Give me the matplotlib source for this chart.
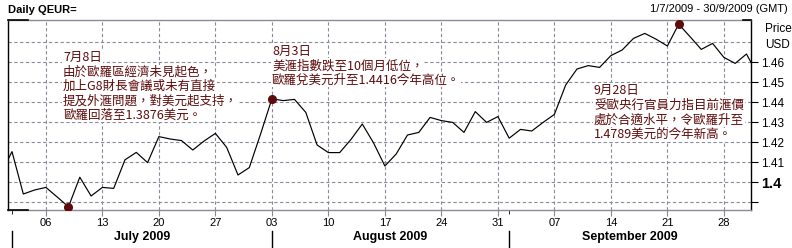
import numpy as np
import pandas as pd
import matplotlib
matplotlib.use("Agg")
import matplotlib.pyplot as plt
import matplotlib.transforms as mtransforms

# daily EUR/USD closes (trading days), 30/6/2009 - 1/10/2009
dates = pd.bdate_range("2009-06-30", "2009-10-01")
prices = [
    1.4040,
    # July
    1.4152, 1.3940, 1.3960, 1.3973, 1.3925, 1.3876, 1.4024, 1.3930, 1.3973, 1.3968,
    1.4111, 1.4148, 1.4097, 1.4227, 1.4215, 1.4207, 1.4160, 1.4205, 1.4243, 1.4173,
    1.4035, 1.4072, 1.4240,
    # August
    1.4416, 1.4407, 1.4413, 1.4348, 1.4185, 1.4147, 1.4147, 1.4213, 1.4290, 1.4195,
    1.4080, 1.4140, 1.4235, 1.4248, 1.4323, 1.4307, 1.4298, 1.4248, 1.4352, 1.4298,
    1.4327,
    # September
    1.4219, 1.4263, 1.4255, 1.4298, 1.4338, 1.4485, 1.4565, 1.4582, 1.4573, 1.4632,
    1.4660, 1.4718, 1.4743, 1.4714, 1.4680, 1.4789, 1.4727, 1.4663, 1.4693, 1.4623,
    1.4593, 1.4640,
    # October
    1.4535,
]
highlight_dates = ["2009-07-08", "2009-08-03", "2009-09-22"]
y_ticks = [1.39, 1.40, 1.41, 1.42, 1.43, 1.44, 1.45, 1.46]
y_ticklabels = ["", "1.4", "1.41", "1.42", "1.43", "1.44", "1.45", "1.46"]
months = ["July 2009", "August 2009", "September 2009"]
month_starts = ["2009-07-01", "2009-08-03", "2009-09-01"]

notes = [
    ["7月8日", "由於歐羅區經濟未見起色，", "加上G8財長會議或未有直接",
     "提及外滙問題，對美元起支持，", "歐羅回落至1.3876美元。"],
    ["8月3日", "美滙指數跌至10個月低位，", "歐羅兌美元升至1.4416今年高位。"],
    ["9月28日", "受歐央行官員力指目前滙價", "處於合適水平，令歐羅升至",
     "1.4789美元的今年新高。"],
]
note_pos = [(63, 51, 14.4), (272, 45, 14.2), (594, 84, 14.8)]  # px: left, top, line step

df = pd.DataFrame({"price": prices}, index=dates)
# x = trading-day index, 1 July = 0
df["x"] = np.arange(len(df)) - 1

W, H = 792, 248
fig = plt.figure(figsize=(W / 100, H / 100), dpi=100)
ax = fig.add_axes([8 / W, 1 - 210 / H, (751 - 8) / W, (210 - 20) / H])

grid_c = "#8a8a9a"
red = "#5e0b0b"
latin = ["Liberation Sans", "DejaVu Sans"]
cjk = ["Noto Sans CJK TC", "DejaVu Sans"]

ax.plot(df["x"], df["price"], color="black", lw=0.85, zorder=3)
hl = df.loc[pd.to_datetime(highlight_dates)]
ax.plot(hl["x"], hl["price"], "o", color=red, ms=5.5, zorder=5)

ax.set_xlim(-0.354, 65.4)
ax.set_ylim(1.386, 1.481)

# grid
for v in np.arange(1.39, 1.475, 0.01):
    ax.axhline(v, color=grid_c, lw=0.8, dashes=(3, 2.2), zorder=1)
mondays = df[df.index.dayofweek == 0]
for xv in mondays["x"]:
    ax.axvline(xv, color=grid_c, lw=0.8, dashes=(3, 2.2), zorder=1)

# x ticks
ax.set_xticks(mondays["x"])
ax.set_xticklabels([d.strftime("%d") for d in mondays.index], fontsize=8, family=latin)
ax.tick_params(axis="x", length=4, color=grid_c, pad=2)
ms_x = df.loc[pd.to_datetime(month_starts), "x"].tolist()
ax.set_xticks([ms_x[0], ms_x[2]], minor=True)
ax.tick_params(axis="x", which="minor", length=3, color="black")

# y ticks on right
ax.yaxis.tick_right()
ax.set_yticks(y_ticks)
ax.set_yticklabels(y_ticklabels, fontsize=8.5, family=latin)
ax.tick_params(axis="y", length=5, color="black", pad=2)
for lab in ax.get_yticklabels():
    if lab.get_text() == "1.4":
        lab.set_fontweight("bold")
        lab.set_fontsize(10.5)

# frame
for s in ["left", "right"]:
    ax.spines[s].set_color("black")
    ax.spines[s].set_linewidth(1)
for s in ["top", "bottom"]:
    ax.spines[s].set_color(grid_c)
    ax.spines[s].set_linewidth(1)
ax.plot([0, 0.027], [1, 1], color="black", lw=1.2, transform=ax.transAxes, clip_on=False, zorder=6)
ax.plot([0, 0.027], [0, 0], color="black", lw=1.2, transform=ax.transAxes, clip_on=False, zorder=6)
ax.plot([0.989, 1], [1, 1], color="black", lw=1.2, transform=ax.transAxes, clip_on=False, zorder=6)

# month band below axis
trans = mtransforms.blended_transform_factory(ax.transData, fig.transFigure)
edges = ms_x + [65.4]
for i, m in enumerate(months):
    ax.plot([ms_x[i], ms_x[i]], [1 - 231 / H, 1 - 247 / H], color="black", lw=1,
            transform=trans, clip_on=False)
    ax.text((edges[i] + edges[i + 1]) / 2, 1 - 237 / H, m, transform=trans,
            ha="center", va="center", fontsize=9, fontweight="bold", family=latin)

# headers
fig.text(8 / W, 1 - 10 / H, "Daily QEUR=", fontsize=8, fontweight="bold",
         family=latin, va="center", ha="left")
fig.text(788 / W, 1 - 9 / H, "1/7/2009 - 30/9/2009 (GMT)", fontsize=8,
         family=latin, va="center", ha="right")
fig.text(765 / W, 1 - 29 / H, "Price", fontsize=8.5, family=latin, va="center", ha="left")
fig.text(765 / W, 1 - 45 / H, "USD", fontsize=8.5, family=latin, va="center", ha="left")

# annotations
for lines, (px, py, step) in zip(notes, note_pos):
    for i, line in enumerate(lines):
        fig.text(px / W, 1 - (py + i * step) / H, line, fontsize=9, family=cjk,
                 color=red, ha="left", va="top", zorder=4,
                 bbox=dict(facecolor="white", edgecolor="none", pad=0.5))

fig.savefig("out.png", dpi=100)
